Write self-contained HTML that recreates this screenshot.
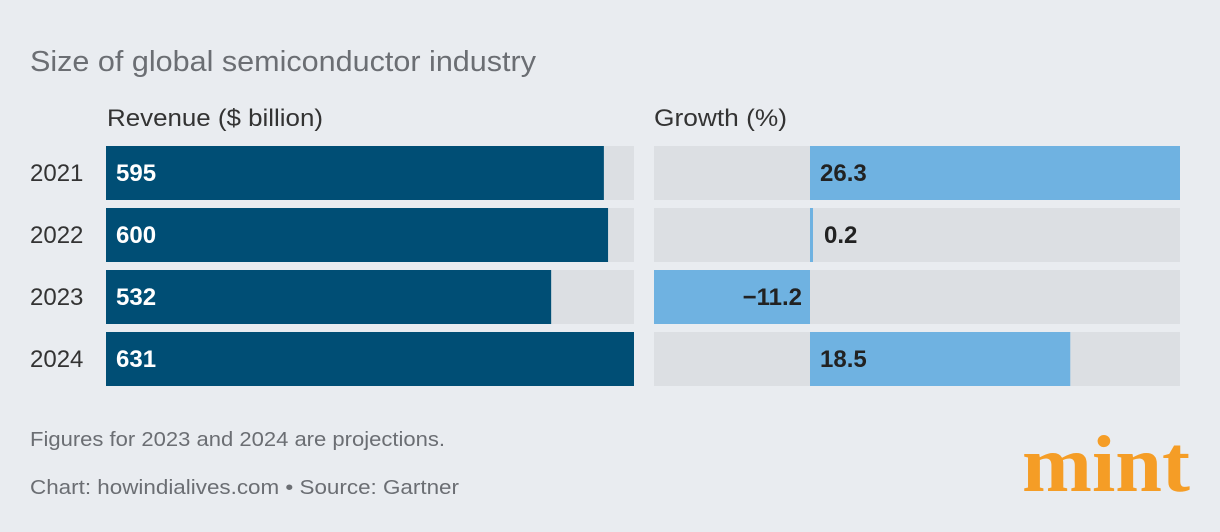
<!DOCTYPE html>
<html><head><meta charset="utf-8"><style>
html,body{margin:0;padding:0;background:#e9ecf0;}
svg{display:block;font-family:"Liberation Sans",sans-serif;}
</style></head><body>
<svg id="chart" width="1220" height="532">
<rect width="1220" height="532" fill="#e9ecf0"/>
<text x="30" y="71" font-size="29" fill="#6b6e73" textLength="506" lengthAdjust="spacingAndGlyphs">Size of global semiconductor industry</text>
<text x="107" y="126" font-size="24" fill="#333" textLength="216" lengthAdjust="spacingAndGlyphs">Revenue ($ billion)</text>
<text x="654" y="126" font-size="24" fill="#333" textLength="133" lengthAdjust="spacingAndGlyphs">Growth (%)</text>
<g id="rows"></g>
<text x="30" y="446" font-size="20" fill="#6b6e73" textLength="415" lengthAdjust="spacingAndGlyphs">Figures for 2023 and 2024 are projections.</text>
<text x="30" y="494" font-size="20" fill="#6b6e73" textLength="429" lengthAdjust="spacingAndGlyphs">Chart: howindialives.com • Source: Gartner</text>
<text x="1022" y="491" font-family="Liberation Serif,serif" font-weight="bold" font-size="80" textLength="168" lengthAdjust="spacingAndGlyphs" fill="#f59d26">mint</text>
</svg>
<script>
const years = ["2021","2022","2023","2024"];
const revenue = [595,600,532,631];
const growth = [26.3,0.2,-11.2,18.5];
const revLabels = ["595","600","532","631"];
const growthLabels = ["26.3","0.2","\u221211.2","18.5"];

const NS="http://www.w3.org/2000/svg";
const g=document.getElementById('rows');
const revMax=631, rx0=106, rW=528;
const revX=v=>rx0+rW*v/revMax;
const gx0=654, gx1=1180, zero=810;
const gScale=(gx1-zero)/26.3;
const growthX=v=>Math.max(gx0,Math.min(gx1,zero+v*gScale));
function el(t,a){const e=document.createElementNS(NS,t);for(const k in a)e.setAttribute(k,a[k]);g.appendChild(e);return e;}
years.forEach((y,i)=>{
  const top=146+i*62, h=54;
  const yl=el('text',{x:30,y:top+35,'font-size':24,fill:'#333'});
  yl.textContent=y;
  
  
  const rt=el('rect',{x:rx0,y:top,width:rW,height:h,fill:'#dcdfe3'});
  
  
  const rb=el('rect',{x:rx0,y:top,width:revX(revenue[i])-rx0,height:h,fill:'#004e75'});
  
  
  const rv=el('text',{x:116,y:top+35,'font-size':24,'font-weight':'bold',fill:'#fff'});
  rv.textContent=revLabels[i];
  
  
  const gt=el('rect',{x:gx0,y:top,width:gx1-gx0,height:h,fill:'#dcdfe3'});
  
  
  const v=growth[i], a=growthX(Math.min(0,v)), b=growthX(Math.max(0,v));
  const gb=el('rect',{x:a,y:top,width:Math.max(b-a,3),height:h,fill:'#6fb2e1'});
  
  
  let tx, anchor;
  if(v<0){tx=zero-8;anchor='end';}
  else if(b-zero<40){tx=zero+14;anchor='start';}
  else{tx=zero+10;anchor='start';}
  const gv=el('text',{x:tx,y:top+35,'font-size':24,'font-weight':'bold',fill:'#222','text-anchor':anchor});
  gv.textContent=growthLabels[i];
  
  
});
</script>
</body></html>
